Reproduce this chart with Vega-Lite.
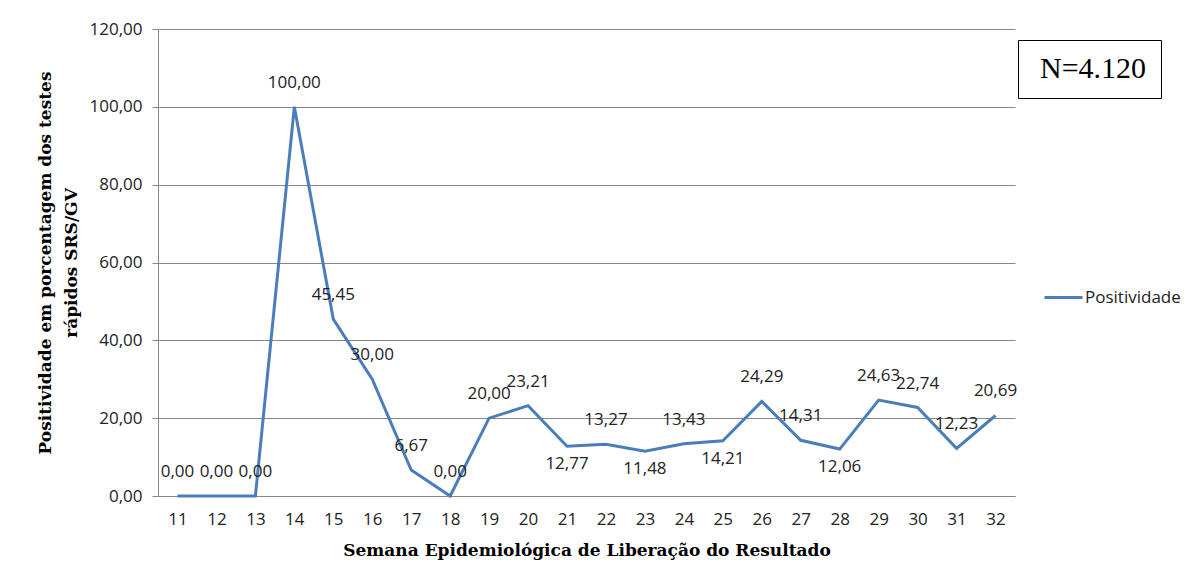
{
  "$schema": "https://vega.github.io/schema/vega-lite/v6.json",
  "width": 857,
  "height": 467,
  "autosize": {"type": "none"},
  "padding": {"left": 158, "top": 29, "right": 177, "bottom": 84},
  "background": "white",
  "config": {
    "locale": {"number": {"decimal": ",", "thousands": ".", "grouping": [3], "currency": ["R$", ""]}},
    "view": {"stroke": null},
    "axis": {"labelFont": "Open Sans", "labelFontSize": 17, "labelColor": "#222222", "titleFont": "DejaVu Serif", "titleFontSize": 17, "titleFontWeight": "bold", "titleColor": "#000000", "domainColor": "#868686", "tickColor": "#868686", "gridColor": "#868686"}
  },
  "datasets": {
    "positividade": [
      {"semana": "11", "positividade": 0.00, "serie": "Positividade"},
      {"semana": "12", "positividade": 0.00, "serie": "Positividade"},
      {"semana": "13", "positividade": 0.00, "serie": "Positividade"},
      {"semana": "14", "positividade": 100.00, "serie": "Positividade"},
      {"semana": "15", "positividade": 45.45, "serie": "Positividade"},
      {"semana": "16", "positividade": 30.00, "serie": "Positividade"},
      {"semana": "17", "positividade": 6.67, "serie": "Positividade"},
      {"semana": "18", "positividade": 0.00, "serie": "Positividade"},
      {"semana": "19", "positividade": 20.00, "serie": "Positividade"},
      {"semana": "20", "positividade": 23.21, "serie": "Positividade"},
      {"semana": "21", "positividade": 12.77, "serie": "Positividade"},
      {"semana": "22", "positividade": 13.27, "serie": "Positividade"},
      {"semana": "23", "positividade": 11.48, "serie": "Positividade"},
      {"semana": "24", "positividade": 13.43, "serie": "Positividade"},
      {"semana": "25", "positividade": 14.21, "serie": "Positividade"},
      {"semana": "26", "positividade": 24.29, "serie": "Positividade"},
      {"semana": "27", "positividade": 14.31, "serie": "Positividade"},
      {"semana": "28", "positividade": 12.06, "serie": "Positividade"},
      {"semana": "29", "positividade": 24.63, "serie": "Positividade"},
      {"semana": "30", "positividade": 22.74, "serie": "Positividade"},
      {"semana": "31", "positividade": 12.23, "serie": "Positividade"},
      {"semana": "32", "positividade": 20.69, "serie": "Positividade"}
    ],
    "anotacao": [{"n": "N=4.120"}]
  },
  "encoding": {
    "x": {
      "field": "semana",
      "type": "ordinal",
      "scale": {"type": "point", "padding": 0.5},
      "axis": {"title": "Semana Epidemiológica de Liberação do Resultado", "labelAngle": 0, "ticks": false, "tickSize": 0, "labelPadding": 15, "titlePadding": 15, "grid": false}
    },
    "y": {
      "field": "positividade",
      "type": "quantitative",
      "scale": {"domain": [0, 120]},
      "axis": {"title": ["Positividade em porcentagem dos testes", "rápidos SRS/GV"], "values": [0, 20, 40, 60, 80, 100, 120], "format": ".2f", "tickSize": 6, "labelPadding": 10, "titlePadding": 8, "titleLineHeight": 26, "grid": true}
    }
  },
  "layer": [
    {
      "data": {"name": "positividade"},
      "mark": {"type": "line", "strokeWidth": 3},
      "encoding": {
        "color": {
          "field": "serie",
          "type": "nominal",
          "scale": {"range": ["#4A7EBB"]},
          "legend": {"orient": "none", "legendX": 885, "legendY": 248, "title": null, "symbolType": "stroke", "symbolSize": 1444, "symbolStrokeWidth": 3, "labelFont": "Open Sans", "labelFontSize": 17, "labelColor": "#222222", "labelOffset": 1, "padding": 0}
        }
      }
    },
    {
      "data": {"name": "positividade"},
      "transform": [{"filter": {"not": {"field": "semana", "oneOf": ["21", "23", "25", "28"]}}}],
      "mark": {"type": "text", "dy": -24, "baseline": "middle", "font": "Open Sans", "fontSize": 17, "color": "#222222"},
      "encoding": {"text": {"field": "positividade", "type": "quantitative", "format": ".2f"}}
    },
    {
      "data": {"name": "positividade"},
      "transform": [{"filter": {"field": "semana", "oneOf": ["21", "23", "25", "28"]}}],
      "mark": {"type": "text", "dy": 18, "baseline": "middle", "font": "Open Sans", "fontSize": 17, "color": "#222222"},
      "encoding": {"text": {"field": "positividade", "type": "quantitative", "format": ".2f"}}
    },
    {
      "data": {"name": "anotacao"},
      "mark": {"type": "point", "opacity": 0},
      "encoding": {
        "x": {"value": 0},
        "y": {"value": 0},
        "shape": {
          "field": "n",
          "type": "nominal",
          "legend": {"orient": "none", "legendX": 860, "legendY": 11, "title": null, "strokeColor": "black", "padding": 14, "symbolOpacity": 0, "symbolSize": 0, "labelOffset": -22, "labelFont": "Liberation Serif", "labelFontSize": 30, "labelColor": "#000000", "encode": {"legend": {"update": {"strokeWidth": {"value": 2}}}}}
        }
      }
    }
  ]
}
